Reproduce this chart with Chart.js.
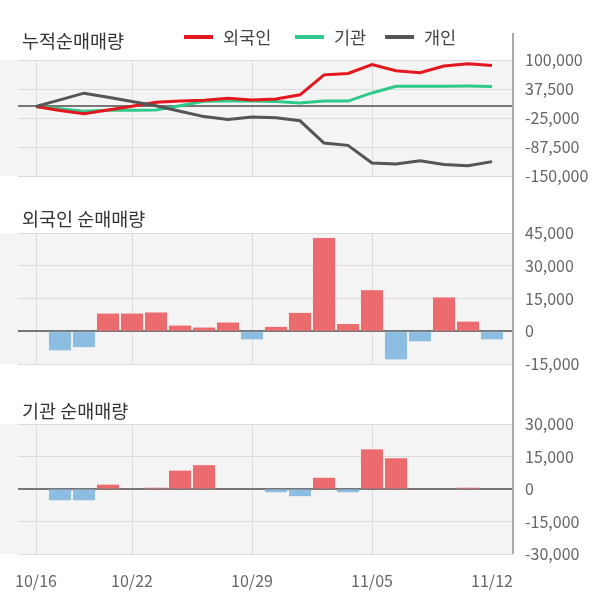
<!DOCTYPE html>
<html>
<head>
<meta charset="utf-8">
<script src="https://cdn.jsdelivr.net/npm/chart.js@4.4.0/dist/chart.umd.min.js"></script>
<style>
  html,body{margin:0;padding:0;background:#fff;}
  #wrap{position:relative;width:600px;height:604px;background:#fff;font-family:"Noto Sans CJK KR","Noto Sans",sans-serif;}
  .ttl{position:absolute;left:22px;font-size:18.5px;line-height:22px;color:#333;white-space:nowrap;}
  .cv{position:absolute;left:0;}
  #legend{position:absolute;top:27px;left:0;height:20px;}
  .lg{position:absolute;top:0;font-size:17.5px;line-height:20px;color:#444;white-space:nowrap;}
  .lg i{position:absolute;top:8px;width:29px;height:4px;}
  .lg span{position:absolute;left:39px;top:0;}
</style>
</head>
<body>
<div id="wrap">
  <canvas id="c1" class="cv" width="600" height="190" style="top:0"></canvas>
  <canvas id="c2" class="cv" width="600" height="190" style="top:190px"></canvas>
  <canvas id="c3" class="cv" width="600" height="224" style="top:380px"></canvas>
  <div class="ttl" style="top:29px">누적순매매량</div>
  <div class="ttl" style="top:207px">외국인 순매매량</div>
  <div class="ttl" style="top:399px">기관 순매매량</div>
  <div id="legend"></div>
</div>
<script>
// ---- data ----
const dates = ['10/16','10/17','10/18','10/21','10/22','10/23','10/24','10/25','10/28','10/29',
               '10/30','10/31','11/01','11/04','11/05','11/06','11/07','11/08','11/11','11/12'];
const tickDates = ['10/16','10/22','10/29','11/05','11/12'];
const seriesNames = ['외국인','기관','개인'];
// cumulative net buying
const foreignCum = [0,-8700,-16000,-7900,200,8800,11400,13100,17500,13800,
                    16000,25000,68000,71000,90000,77000,72500,87000,92000,88000];
const instCum    = [0,-5200,-10300,-8300,-8300,-7700,1500,11000,11800,11800,
                    10300,7500,11500,11500,29000,43500,43500,43500,43800,43000];
const indivCum   = [0,14000,28500,19500,10500,1500,-10500,-22000,-28000,-23000,
                    -24500,-31000,-79000,-84000,-122000,-124000,-117000,-125000,-128000,-119000];
// daily net buying (10/16 has no bar)
const foreignNet = [null,-8700,-7300,8100,8100,8600,2600,1700,4000,-3700,
                    2000,8400,42700,3300,18800,-12900,-4600,15500,4400,-3700];
const instNet    = [null,-5200,-5200,2000,0,600,8500,11000,0,0,
                    -1500,-3300,5200,-1500,18300,14200,0,0,600,0];
// y tick settings
const yCum = {min:-150000, max:100000, step:62500};
const yForeign = {min:-15000, max:45000, step:15000};
const yInst = {min:-30000, max:30000, step:15000};

// ---- styling ----
const FONT = '"Noto Sans CJK KR","Noto Sans",sans-serif';
const colors = {foreign:'#e3171d', inst:'#2ec98b', indiv:'#555555', up:'#eb6b6f', down:'#8dbde0'};
const tickIdx = tickDates.map(d => dates.indexOf(d));
const pts = arr => arr.map((v,i)=>({x:i,y:v})).filter(p=>p.y!==null);

const decor = {
  id:'decor',
  beforeDraw(chart){
    const {ctx, chartArea:a} = chart;
    ctx.save(); ctx.fillStyle='#f4f4f4';
    ctx.fillRect(0, a.top, a.right, a.bottom-a.top); ctx.restore();
  },
  beforeDatasetsDraw(chart){
    const {ctx, chartArea:a, scales} = chart;
    const y = Math.round(scales.y.getPixelForValue(0));
    ctx.save(); ctx.strokeStyle='#777'; ctx.lineWidth=2;
    ctx.beginPath(); ctx.moveTo(a.left, y); ctx.lineTo(a.right, y); ctx.stroke(); ctx.restore();
  },
  afterDraw(chart, args, opts){
    const {ctx, chartArea:a} = chart;
    const top = opts.lineTop != null ? opts.lineTop : 0;
    const bot = opts.lineBottom === 'area' ? a.bottom : chart.height;
    ctx.save(); ctx.strokeStyle='#aaa'; ctx.lineWidth=2;
    ctx.beginPath(); ctx.moveTo(a.right, top); ctx.lineTo(a.right, bot); ctx.stroke(); ctx.restore();
  }
};

function xScale(showLabels){
  return {
    type:'linear', min:-0.75, max:19.875, offset:false,
    afterBuildTicks(s){ s.ticks = tickIdx.map(v=>({value:v})); },
    afterFit(s){ s.height = showLabels ? 50 : 0; s.paddingLeft = 0; s.paddingRight = 0; },
    grid:{ offset:false, color:(c)=> c.tick && c.tick.value===tickIdx[tickIdx.length-1] ? 'rgba(0,0,0,0)' : '#dcdcdc', drawTicks:false, lineWidth:1 },
    border:{display:false},
    ticks:{ display:showLabels, autoSkip:false, maxRotation:0, padding:17,
      font:{family:FONT,size:16}, color:'#666', callback:(v)=>dates[v] }
  };
}
function yScale(cfg){
  return {
    position:'right', min:cfg.min, max:cfg.max,
    afterFit(s){ s.width = 87; s.paddingTop = 0; s.paddingBottom = 0; },
    grid:{color:'#dcdcdc', drawTicks:false, lineWidth:1},
    border:{display:false},
    ticks:{ stepSize:cfg.step, padding:12, font:{family:FONT,size:16}, color:'#666',
      callback:(v)=>Number(v).toLocaleString('en-US') }
  };
}
const common = (pad, decorOpts) => ({
  responsive:false, animation:false,
  layout:{padding:pad},
  plugins:{legend:{display:false}, tooltip:{enabled:false}, decor:decorOpts}
});

const ch1 = new Chart(document.getElementById('c1'), {
  type:'line',
  data:{datasets:[
    {label:seriesNames[0], data:pts(foreignCum), borderColor:colors.foreign, backgroundColor:colors.foreign, order:1},
    {label:seriesNames[1], data:pts(instCum), borderColor:colors.inst, backgroundColor:colors.inst, order:2},
    {label:seriesNames[2], data:pts(indivCum), borderColor:colors.indiv, backgroundColor:colors.indiv, order:0}
  ]},
  options:Object.assign(common({left:18,top:60,bottom:14,right:0},{lineTop:33}),{
    elements:{line:{borderWidth:3, tension:0}, point:{radius:0}},
    scales:{x:xScale(false), y:yScale(yCum)}
  }),
  plugins:[decor]
});

function barChart(id, arr, ycfg, pad, decorOpts, showX){
  return new Chart(document.getElementById(id), {
    type:'bar',
    data:{datasets:[{data:pts(arr), borderWidth:0,
      backgroundColor:(c)=> (c.raw && c.raw.y<0) ? colors.down : colors.up,
      categoryPercentage:1, barPercentage:0.92}]},
    options:Object.assign(common(pad, decorOpts),{
      scales:{x:xScale(showX), y:yScale(ycfg)}
    }),
    plugins:[decor]
  });
}
barChart('c2', foreignNet, yForeign, {left:18,top:43,bottom:16,right:0}, {}, false);
barChart('c3', instNet, yInst, {left:18,top:44,bottom:0,right:0}, {lineBottom:'area'}, true);

// legend from chart datasets
const lg = document.getElementById('legend');
const lgX = [184, 295, 385];
ch1.data.datasets.forEach((ds,i)=>{
  const d = document.createElement('div'); d.className='lg'; d.style.left=lgX[i]+'px';
  d.innerHTML = '<i style="background:'+ds.borderColor+'"></i><span>'+ds.label+'</span>';
  lg.appendChild(d);
});
</script>
</body>
</html>
